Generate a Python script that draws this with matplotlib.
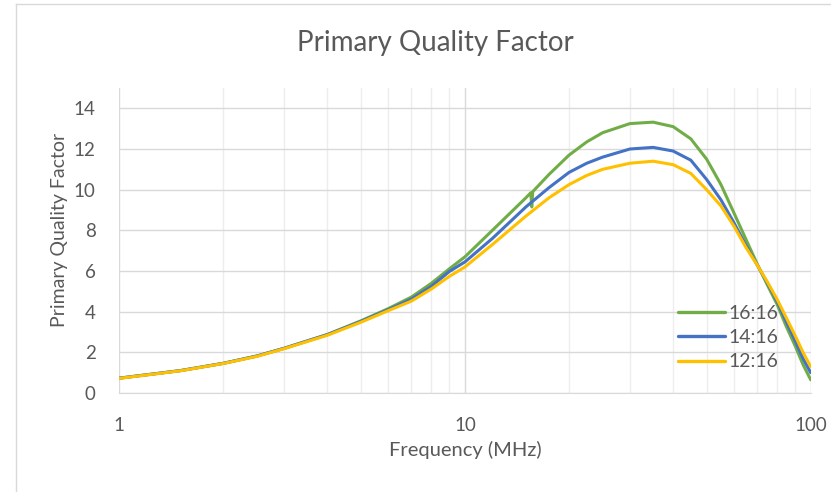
import matplotlib.pyplot as plt
from matplotlib.lines import Line2D
from matplotlib.ticker import LogLocator, NullFormatter, FixedLocator

plt.rcParams['font.family'] = ['Lato', 'DejaVu Sans']

# frequency (MHz) and quality factor
freq = [1, 1.5, 2, 2.5, 3, 4, 5, 6, 7, 8, 9, 10, 12, 15, 17.5,
        20, 22.5, 25, 30, 35, 40, 45, 50, 55, 60, 65, 70, 75, 80, 85, 90, 95, 100]

# 16:16 has a small glitch near 15.6 MHz
freq_16 = [1, 1.5, 2, 2.5, 3, 4, 5, 6, 7, 8, 9, 10, 12, 15, 15.5, 15.6, 15.7, 17.5,
           20, 22.5, 25, 30, 35, 40, 45, 50, 55, 60, 65, 70, 75, 80, 85, 90, 95, 100]
q_16 = [0.73, 1.1, 1.46, 1.82, 2.2, 2.88, 3.55, 4.15, 4.72, 5.4, 6.1, 6.7, 8.0, 9.6, 9.85, 9.15, 9.9, 10.75,
        11.7, 12.35, 12.8, 13.25, 13.32, 13.1, 12.5, 11.5, 10.25, 8.85, 7.55, 6.35, 5.3, 4.35, 3.27, 2.35, 1.4, 0.65]
q_14 = [0.73, 1.1, 1.46, 1.82, 2.2, 2.87, 3.52, 4.1, 4.62, 5.25, 5.97, 6.45, 7.6, 9.15, 10.1,
        10.85, 11.3, 11.6, 12.0, 12.08, 11.9, 11.45, 10.5, 9.5, 8.37, 7.25, 6.3, 5.4, 4.5, 3.5, 2.6, 1.7, 1.0]
q_12 = [0.72, 1.09, 1.45, 1.8, 2.18, 2.84, 3.48, 4.05, 4.52, 5.12, 5.73, 6.2, 7.3, 8.7, 9.6,
        10.25, 10.7, 11.0, 11.3, 11.4, 11.23, 10.8, 10.0, 9.2, 8.2, 7.15, 6.3, 5.45, 4.6, 3.7, 2.85, 2.0, 1.3]

series = [("16:16", freq_16, q_16, "#70AD47"),
          ("14:16", freq, q_14, "#4472C4"),
          ("12:16", freq, q_12, "#FFC000")]

text_grey = "#595959"

fig = plt.figure(figsize=(8.31, 4.92), dpi=100)
ax = fig.add_axes([119.3 / 831, 1 - 393 / 492, (810.7 - 119.3) / 831, (393 - 88) / 492])

for name, f, q, col in series:
    ax.plot(f, q, color=col, lw=2.2, label=name, solid_capstyle='round', solid_joinstyle='round')

ax.set_xscale('log')
ax.set_xlim(1, 100)
ax.set_ylim(0, 15)
ax.xaxis.set_major_locator(FixedLocator([1, 10, 100]))
ax.xaxis.set_minor_locator(LogLocator(base=10, subs=range(2, 10)))
ax.xaxis.set_minor_formatter(NullFormatter())
ax.set_xticklabels(["1", "10", "100"])
ax.yaxis.set_major_locator(FixedLocator(range(0, 15, 2)))

ax.grid(which='major', axis='both', color='#d9d9d9', lw=1.0)
ax.grid(which='minor', axis='x', color='#ededed', lw=1.0)
ax.set_axisbelow(True)

for s in ['top', 'right', 'left']:
    ax.spines[s].set_visible(False)
ax.spines['bottom'].set_color('#d9d9d9')
ax.tick_params(axis='both', which='both', length=0, colors=text_grey, labelsize=13.5)
ax.tick_params(axis='x', pad=17)
ax.tick_params(axis='y', pad=17)

fig.text(465 / 831, 1 - 450 / 492, "Frequency (MHz)", ha='center', va='center',
         fontsize=14.5, color=text_grey)
fig.text(60 / 831, 1 - 230 / 492, "Primary Quality Factor", ha='center', va='center',
         rotation=90, fontsize=14, color=text_grey)
fig.text(435 / 831, 1 - 43 / 492, "Primary Quality Factor", ha='center', va='center',
         fontsize=20, color=text_grey)

leg = ax.legend(loc='upper left', bbox_to_anchor=(678 / 831, 1 - 305 / 492),
                bbox_transform=fig.transFigure, frameon=False, fontsize=14,
                handlelength=2.4, labelspacing=0.37, handletextpad=0.2,
                borderpad=0, borderaxespad=0)
for t in leg.get_texts():
    t.set_color(text_grey)
for h in leg.get_lines():
    h.set_linewidth(2.4)

# chart area border (top and left edges visible)
fig.add_artist(Line2D([16 / 831, 1], [1 - 4 / 492, 1 - 4 / 492], color='#d9d9d9', lw=1.0,
                      transform=fig.transFigure))
fig.add_artist(Line2D([16 / 831, 16 / 831], [1 - 4 / 492, 0], color='#d9d9d9', lw=1.0,
                      transform=fig.transFigure))

fig.savefig("out.png", dpi=100)
